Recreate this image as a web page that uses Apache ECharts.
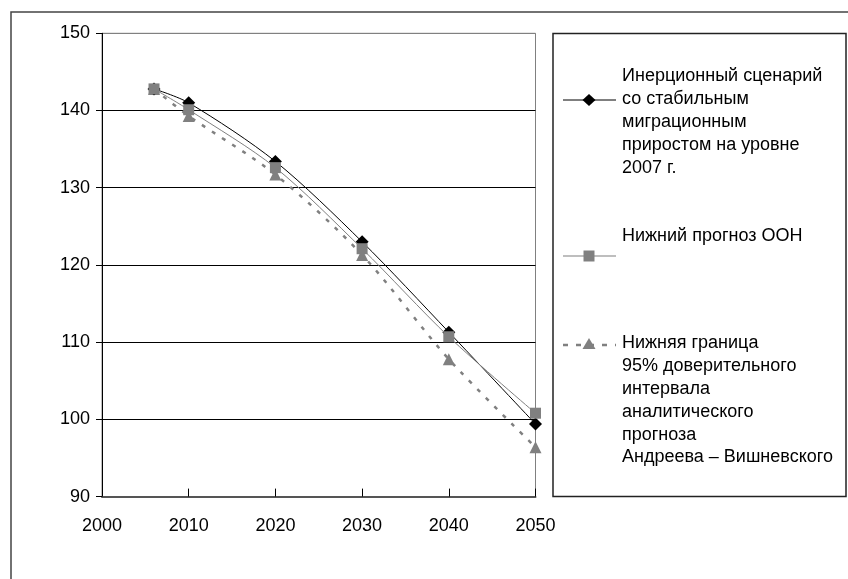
<!DOCTYPE html>
<html>
<head>
<meta charset="utf-8">
<script src="https://cdn.jsdelivr.net/npm/echarts@6/dist/echarts.min.js"></script>
<style>
  html, body { margin: 0; padding: 0; background: #fff; }
  #chart { width: 848px; height: 579px; }
</style>
</head>
<body>
<div id="chart"></div>
<script>
// Population forecast, million people
const years = [2006, 2010, 2020, 2030, 2040, 2050];
const inertial = [142.8, 141.0, 133.4, 123.0, 111.3, 99.4];
const unLow = [142.8, 140.1, 132.6, 122.1, 110.7, 100.8];
const avLowBound = [142.8, 139.3, 131.7, 121.3, 107.8, 96.4];
const seriesNames = [
  'Инерционный сценарий\nсо стабильным\nмиграционным\nприростом на уровне\n2007 г.',
  'Нижний прогноз ООН',
  'Нижняя граница\n95% доверительного\nинтервала\nаналитического\nпрогноза\nАндреева – Вишневского'
];
const yTicks = { min: 90, max: 150, step: 10 };
const xTicks = { min: 2000, max: 2050, step: 10 };

const FONT = 'Liberation Sans';
const FS = 18;

function pairs(vals) { return years.map((y, i) => [y, vals[i]]); }

const chart = echarts.init(document.getElementById('chart'), null, { renderer: 'canvas' });

// legend drawn as graphic groups: sample line + marker + multi-line label
function legendItem(y, lineStyle, symbol, textTop, text) {
  return {
    type: 'group',
    children: [
      { type: 'line', shape: { x1: 563, y1: y, x2: 616, y2: y }, style: lineStyle },
      symbol,
      { type: 'text', x: 622, y: textTop, style: { text: text, font: FS + 'px "' + FONT + '"', fill: '#000', lineHeight: 22.8, verticalAlign: 'top' } }
    ]
  };
}

const option = {
  animation: false,
  backgroundColor: '#fff',
  grid: { left: 102, right: 312.5, top: 33.3, bottom: 82.4, show: true, borderColor: '#808080', borderWidth: 1, backgroundColor: 'transparent' },
  xAxis: {
    type: 'value', min: xTicks.min, max: xTicks.max, interval: xTicks.step,
    axisLine: { show: true, onZero: false, lineStyle: { color: '#555', width: 2 } },
    axisTick: { show: true, inside: true, length: 8, lineStyle: { color: '#000' } },
    axisLabel: { color: '#000', fontFamily: FONT, fontSize: FS, margin: 20, formatter: v => String(v) },
    splitLine: { show: false }
  },
  yAxis: {
    type: 'value', min: yTicks.min, max: yTicks.max, interval: yTicks.step,
    axisLine: { show: true, lineStyle: { color: '#000', width: 1 } },
    axisTick: { show: true, inside: false, length: 6, lineStyle: { color: '#000' } },
    axisLabel: { color: '#000', fontFamily: FONT, fontSize: FS, margin: 12 },
    splitLine: { show: true, lineStyle: { color: ['#555', '#000', '#000', '#000', '#000', '#000', '#808080'], width: 1 } }
  },
  series: [
    {
      name: seriesNames[0], type: 'line', data: pairs(inertial), smooth: 0.3,
      symbol: 'diamond', symbolSize: [13, 13],
      lineStyle: { color: '#000', width: 1 },
      itemStyle: { color: '#000' }, z: 3
    },
    {
      name: seriesNames[1], type: 'line', data: pairs(unLow), smooth: 0.3,
      symbol: 'rect', symbolSize: 11,
      lineStyle: { color: '#808080', width: 1 },
      itemStyle: { color: '#808080' }, z: 4
    },
    {
      name: seriesNames[2], type: 'line', data: pairs(avLowBound), smooth: 0.3,
      symbol: 'triangle', symbolSize: 12,
      lineStyle: { color: '#808080', width: 2.5, type: [4, 8] },
      itemStyle: { color: '#808080' }, z: 2
    }
  ],
  graphic: [
    // outer chart frame
    { type: 'rect', silent: true, z: -1, shape: { x: 11, y: 12, width: 900, height: 700 }, style: { fill: 'transparent', stroke: '#444', lineWidth: 1.5 } },
    // legend frame
    { type: 'rect', silent: true, shape: { x: 553, y: 33.5, width: 293, height: 463 }, style: { fill: '#fff', stroke: '#222', lineWidth: 1.5 } },
    legendItem(100, { stroke: '#000', lineWidth: 1 },
      { type: 'polygon', shape: { points: [[589, 94], [595.5, 100], [589, 106], [582.5, 100]] }, style: { fill: '#000' } },
      65, seriesNames[0]),
    legendItem(256, { stroke: '#a8a8a8', lineWidth: 1.5 },
      { type: 'rect', shape: { x: 583.5, y: 250.5, width: 11, height: 11 }, style: { fill: '#808080' } },
      225, seriesNames[1]),
    legendItem(345, { stroke: '#808080', lineWidth: 2.5, lineDash: [5, 8], lineDashOffset: 0 },
      { type: 'polygon', shape: { points: [[589, 338], [595.5, 349], [582.5, 349]] }, style: { fill: '#808080' } },
      332, seriesNames[2])
  ]
};

chart.setOption(option);
</script>
</body>
</html>
